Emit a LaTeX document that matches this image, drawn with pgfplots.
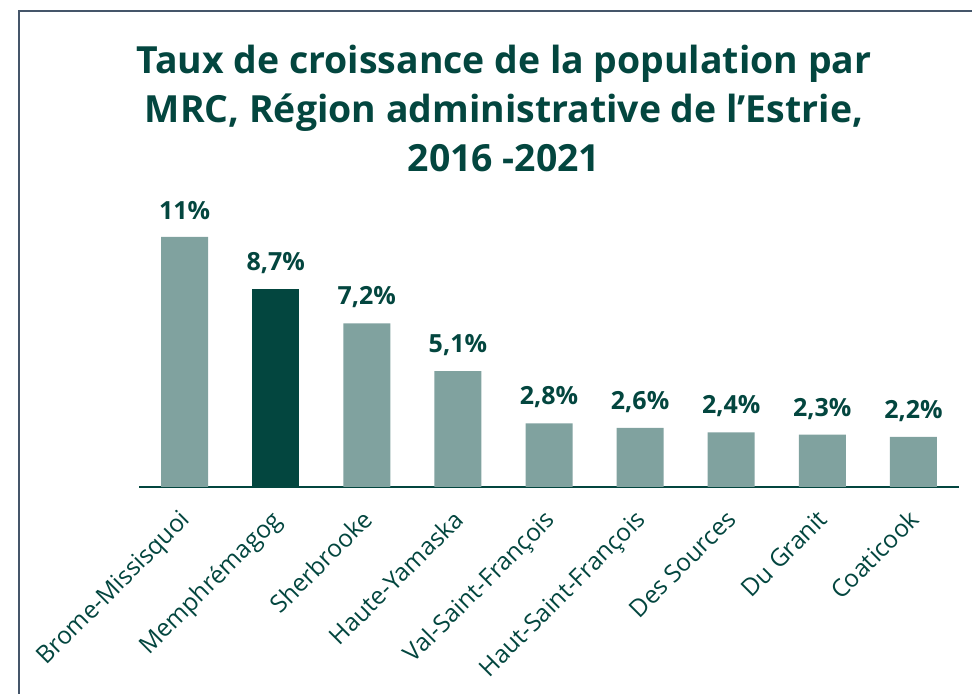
\documentclass[border=0pt]{standalone}
\usepackage{fontspec}
\setmainfont{Open Sans}
\usepackage{pgfplots}
\pgfplotsset{compat=1.18}
\definecolor{darkteal}{HTML}{03463F}
\definecolor{lightteal}{HTML}{80A29F}
\definecolor{framec}{HTML}{45566A}

\begin{document}
\begin{tikzpicture}[x=1pt,y=1pt]
% frame, cut by the page on the right and at the bottom
\draw[framec, line width=1pt] (9.5pt,-20pt) -- (9.5pt,341.5pt) -- (520pt,341.5pt);
\node[align=center, text=darkteal,
      font=\bfseries\fontsize{18.7}{24.5}\selectfont] at (252pt,293pt)
  {Taux de croissance de la population par\\
   MRC, Région administrative de l’Estrie,\\
   2016 -2021};
\begin{axis}[
    at={(69.5pt,103.5pt)}, anchor=south west,
    scale only axis,
    width=410pt, height=125pt,
    xmin=-0.5, xmax=8.5,
    ymin=0, ymax=11,
    ybar, bar width=23.5pt, bar shift=0pt,
    axis x line=bottom, axis y line=none,
    axis line style={-, darkteal, line width=1pt},
    xtick={0,...,8},
    major tick length=0pt,
    xticklabels={Brome-Missisquoi, Memphrémagog, Sherbrooke, Haute-Yamaska,
        Val-Saint-François, Haut-Saint-François, Des Sources, Du Granit, Coaticook},
    xticklabel style={xshift=-3pt, yshift=-9pt, rotate=45, anchor=north east,
        text=darkteal, font=\fontsize{12.2}{14}\selectfont, inner sep=1pt},
    clip=false,
    point meta=explicit symbolic,
    nodes near coords={\pgfplotspointmeta},
    every node near coord/.append style={text=darkteal, anchor=center, yshift=13pt,
        font=\bfseries\fontsize{12.5}{14}\selectfont},
]
\addplot[fill=lightteal, draw=none] coordinates {
    (0,11.0) [11\%]
    (2,7.2) [7,2\%]
    (3,5.1) [5,1\%]
    (4,2.8) [2,8\%]
    (5,2.6) [2,6\%]
    (6,2.4) [2,4\%]
    (7,2.3) [2,3\%]
    (8,2.2) [2,2\%]
};
\addplot[fill=darkteal, draw=none] coordinates {
    (1,8.7) [8,7\%]
};
\end{axis}
\pgfresetboundingbox
\useasboundingbox (0,0) rectangle (486pt,347pt);
\end{tikzpicture}
\end{document}
